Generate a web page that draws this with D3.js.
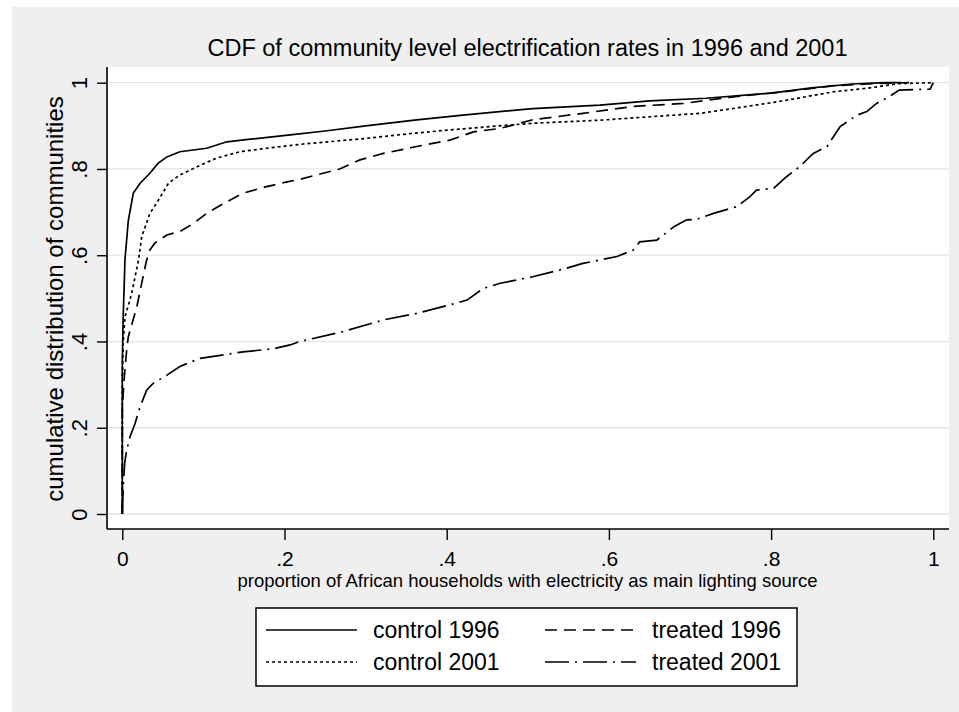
<!DOCTYPE html>
<html>
<head>
<meta charset="utf-8">
<script src="https://cdn.jsdelivr.net/npm/d3@7"></script>
<style>
  html, body { margin: 0; padding: 0; background: #ffffff; }
  svg { display: block; font-family: "Liberation Sans", Arial, sans-serif; }
</style>
</head>
<body>
<svg id="chart" width="959" height="712"></svg>
<script>
// ---- data ----
const titleText = "CDF of community level electrification rates in 1996 and 2001";
const xTitle = "proportion of African households with electricity as main lighting source";
const yTitle = "cumulative distribution of communities";
const xTicks = [0, 0.2, 0.4, 0.6, 0.8, 1];
const xTickLabels = ["0", ".2", ".4", ".6", ".8", "1"];
const yTicks = [0, 0.2, 0.4, 0.6, 0.8, 1];
const yTickLabels = ["0", ".2", ".4", ".6", ".8", "1"];
const seriesNames = ["control 1996", "treated 1996", "control 2001", "treated 2001"];

const control1996 = [
  [0, 0], [0, 0.35], [0.001, 0.45], [0.0033, 0.59], [0.0074, 0.68], [0.0136, 0.744],
  [0.022, 0.767], [0.034, 0.79], [0.044, 0.813], [0.055, 0.828], [0.071, 0.84],
  [0.104, 0.848], [0.129, 0.863], [0.158, 0.869], [0.207, 0.879], [0.25, 0.888],
  [0.30, 0.90], [0.363, 0.914], [0.42, 0.925], [0.506, 0.94], [0.589, 0.948],
  [0.65, 0.958], [0.72, 0.964], [0.8, 0.976], [0.85, 0.988], [0.9, 0.997],
  [0.94, 1.0], [0.96, 1.0]
];
const treated1996 = [
  [0, 0], [0, 0.25], [0.003, 0.33], [0.0054, 0.38], [0.0074, 0.411], [0.018, 0.481],
  [0.024, 0.536], [0.03, 0.589], [0.034, 0.612], [0.04, 0.628], [0.055, 0.647],
  [0.071, 0.655], [0.088, 0.674], [0.104, 0.697], [0.125, 0.72], [0.149, 0.744],
  [0.178, 0.759], [0.203, 0.77], [0.219, 0.776], [0.268, 0.80], [0.293, 0.821],
  [0.322, 0.836], [0.363, 0.852], [0.404, 0.867], [0.433, 0.886], [0.466, 0.894],
  [0.506, 0.914], [0.568, 0.929], [0.63, 0.945], [0.692, 0.952], [0.753, 0.967],
  [0.82, 0.98], [0.877, 0.993], [0.93, 0.998], [0.97, 1.0]
];
const control2001 = [
  [0, 0], [0, 0.30], [0.001, 0.396], [0.0033, 0.457], [0.0116, 0.512], [0.02, 0.589],
  [0.024, 0.643], [0.034, 0.697], [0.042, 0.72], [0.057, 0.767], [0.071, 0.786],
  [0.092, 0.805], [0.116, 0.825], [0.145, 0.84], [0.178, 0.848], [0.219, 0.857],
  [0.301, 0.871], [0.36, 0.883], [0.425, 0.894], [0.506, 0.906], [0.589, 0.913],
  [0.65, 0.921], [0.713, 0.929], [0.76, 0.942], [0.815, 0.958], [0.877, 0.979],
  [0.918, 0.987], [0.958, 0.998], [1.0, 1.0]
];
const treated2001 = [
  [0, 0], [0.001, 0.06], [0.003, 0.12], [0.0054, 0.148], [0.0095, 0.179], [0.0157, 0.21],
  [0.022, 0.249], [0.03, 0.287], [0.038, 0.303], [0.055, 0.322], [0.071, 0.342],
  [0.096, 0.361], [0.125, 0.369], [0.149, 0.376], [0.186, 0.383], [0.207, 0.392],
  [0.219, 0.40], [0.272, 0.423], [0.322, 0.45], [0.363, 0.465], [0.404, 0.485],
  [0.425, 0.496], [0.445, 0.523], [0.466, 0.535], [0.506, 0.55], [0.548, 0.57],
  [0.568, 0.581], [0.61, 0.597], [0.63, 0.612], [0.638, 0.631], [0.659, 0.635],
  [0.68, 0.666], [0.696, 0.682], [0.708, 0.683], [0.729, 0.697], [0.758, 0.713],
  [0.774, 0.736], [0.782, 0.751], [0.803, 0.755], [0.819, 0.782], [0.835, 0.805],
  [0.852, 0.836], [0.869, 0.852], [0.885, 0.898], [0.906, 0.925], [0.918, 0.933],
  [0.93, 0.952], [0.946, 0.968], [0.958, 0.983], [0.996, 0.985], [1.0, 1.0]
];

const seriesData = [control1996, treated1996, control2001, treated2001];
const seriesDash = ["none", "12,7", "3,3", "24,6,2,6"];

// ---- layout ----
const svg = d3.select("#chart");
svg.append("rect").attr("x", 12).attr("y", 7).attr("width", 947).attr("height", 705).attr("fill", "#efefef");

const region = {left: 107, top: 67, right: 949, bottom: 529};
svg.append("rect").attr("x", region.left).attr("y", region.top)
  .attr("width", region.right - region.left).attr("height", region.bottom - region.top)
  .attr("fill", "#ffffff");

const x = d3.scaleLinear().domain([0, 1]).range([122.3, 933.3]);
const y = d3.scaleLinear().domain([0, 1]).range([514, 82.7]);

// grid
svg.append("g").selectAll("line").data(yTicks).join("line")
  .attr("x1", region.left).attr("x2", region.right)
  .attr("y1", d => y(d)).attr("y2", d => y(d))
  .attr("stroke", "#e5e5e5").attr("stroke-width", 1.3);

// series lines
const line = d3.line().x(d => x(d[0])).y(d => y(d[1]));
svg.append("g").selectAll("path").data(seriesData).join("path")
  .attr("d", line)
  .attr("fill", "none").attr("stroke", "#000").attr("stroke-width", 1.7)
  .attr("stroke-dasharray", (d, i) => seriesDash[i]);

// axes
const xAxis = d3.axisBottom(x).tickValues(xTicks).tickSize(11).tickPadding(5)
  .tickFormat((d, i) => xTickLabels[i]);
const gx = svg.append("g").attr("transform", `translate(0,${region.bottom})`).call(xAxis);
gx.select(".domain").attr("d", `M${region.left},0H${region.right}`).attr("stroke-width", 1.6);
gx.selectAll(".tick line").attr("stroke-width", 1.4);
gx.selectAll(".tick text").attr("font-size", 21).attr("fill", "#000")
  .attr("dy", null).attr("y", 37);

const yAxis = d3.axisLeft(y).tickValues(yTicks).tickSize(10)
  .tickFormat((d, i) => yTickLabels[i]);
const gy = svg.append("g").attr("transform", `translate(${region.left},0)`).call(yAxis);
gy.select(".domain").attr("d", `M0,${region.top}V${region.bottom}`).attr("stroke-width", 1.6);
gy.selectAll(".tick line").attr("stroke-width", 1.4);
gy.selectAll(".tick text").attr("font-size", 22).attr("fill", "#000")
  .attr("x", null).attr("dy", null)
  .attr("text-anchor", "middle")
  .attr("transform", "translate(-20,0) rotate(-90)");

// titles
svg.append("text").attr("x", 527.5).attr("y", 56).attr("text-anchor", "middle")
  .attr("font-size", 23.5).attr("fill", "#000").text(titleText);
svg.append("text").attr("x", 527.5).attr("y", 587).attr("text-anchor", "middle")
  .attr("font-size", 18.5).attr("fill", "#000").text(xTitle);
svg.append("text").attr("transform", "translate(63,299) rotate(-90)").attr("text-anchor", "middle")
  .attr("font-size", 24).attr("fill", "#000").text(yTitle);

// legend
const lg = svg.append("g");
lg.append("rect").attr("x", 256).attr("y", 608).attr("width", 541).attr("height", 78)
  .attr("fill", "#fff").attr("stroke", "#000").attr("stroke-width", 1.5);
const legPos = [[266, 630], [545, 630], [266, 662], [545, 662]];
seriesNames.forEach((name, i) => {
  const [lx, ly] = legPos[i];
  lg.append("line").attr("x1", lx).attr("x2", lx + 91).attr("y1", ly).attr("y2", ly)
    .attr("stroke", "#000").attr("stroke-width", 1.7).attr("stroke-dasharray", seriesDash[i]);
  lg.append("text").attr("x", lx + 107).attr("y", ly + 8).attr("font-size", 23)
    .attr("fill", "#000").text(name);
});
</script>
</body>
</html>
